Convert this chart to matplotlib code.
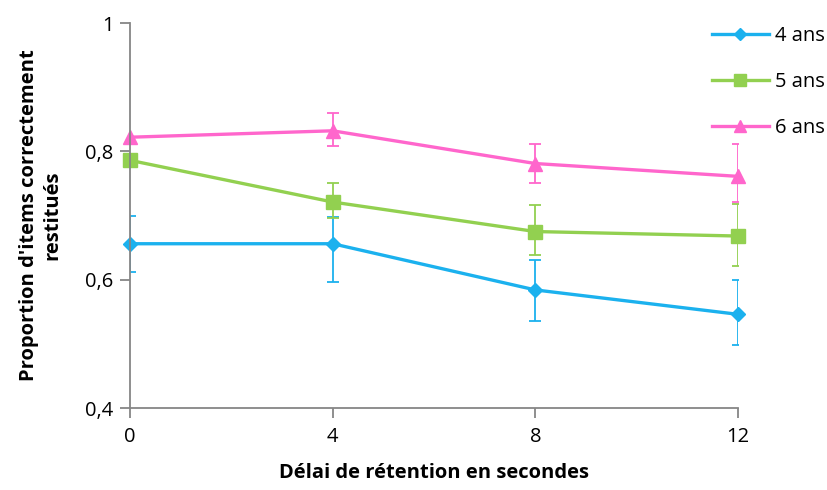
import matplotlib
matplotlib.use("Agg")
import matplotlib.pyplot as plt
from matplotlib.lines import Line2D

plt.rcParams['font.family'] = ['Open Sans', 'DejaVu Sans']

delais = [0, 4, 8, 12]
series_labels = ['4 ans', '5 ans', '6 ans']

ans4 = [0.656, 0.656, 0.584, 0.546]
ans4_low = [0.044, 0.059, 0.048, 0.048]
ans4_high = [0.044, 0.041, 0.047, 0.053]

ans5 = [0.786, 0.721, 0.675, 0.668]
ans5_low = [0.0, 0.025, 0.037, 0.047]
ans5_high = [0.0, 0.029, 0.042, 0.050]

ans6 = [0.822, 0.832, 0.781, 0.761]
ans6_low = [0.0, 0.024, 0.031, 0.040]
ans6_high = [0.0, 0.027, 0.031, 0.051]

y_ticks = [0.4, 0.6, 0.8, 1.0]
y_ticklabels = ['0,4', '0,6', '0,8', '1']

colors = ['#1BB1EE', '#92D050', '#FF66CC']
markers = ['D', 's', '^']
msizes = [7, 9.5, 9.5]
fs = 14.5

fig = plt.figure(figsize=(8.28, 4.9), dpi=100)
ax = fig.add_axes([130 / 828, 1 - 408 / 490, 608 / 828, 385 / 490])

data = [(ans4, ans4_low, ans4_high), (ans5, ans5_low, ans5_high), (ans6, ans6_low, ans6_high)]
handles = []
for (vals, lo, hi), c, m, ms, lab in zip(data, colors, markers, msizes, series_labels):
    line, caps, bars = ax.errorbar(delais, vals, yerr=[lo, hi], color=c, lw=2.4,
                                   marker=m, ms=ms, mec=c, mfc=c,
                                   elinewidth=1.3, capsize=4, capthick=1.3)
    line.set_clip_on(False)
    handles.append(Line2D([], [], color=c, lw=2.4, marker=m, ms=ms * 0.85, mec=c, mfc=c, label=lab))

ax.set_xlim(0, 12)
ax.set_ylim(0.4, 1.0)
ax.set_xticks(delais)
ax.set_xticklabels([str(d) for d in delais])
ax.set_yticks(y_ticks)
ax.set_yticklabels(y_ticklabels)

for s in ['top', 'right']:
    ax.spines[s].set_visible(False)
for s in ['left', 'bottom']:
    ax.spines[s].set_color('#868686')
    ax.spines[s].set_linewidth(1.3)
ax.tick_params(axis='y', direction='out', length=7, width=1.3, color='#868686',
               labelsize=fs, pad=5)
ax.tick_params(axis='x', direction='out', length=7, width=1.3, color='#868686',
               labelsize=fs, pad=7)

ax.set_xlabel('Délai de rétention en secondes', fontsize=fs, fontweight='bold', labelpad=11)
ax.set_ylabel("Proportion d'items correctement\nrestitués", fontsize=fs,
              fontweight='bold', labelpad=16, linespacing=1.25)

fig.legend(handles=handles, loc='upper left', bbox_to_anchor=(694 / 828, 1 - 8 / 490),
           frameon=False, fontsize=fs, handlelength=2.8, handletextpad=0.3,
           labelspacing=1.3)

fig.savefig('out.png', dpi=100)
